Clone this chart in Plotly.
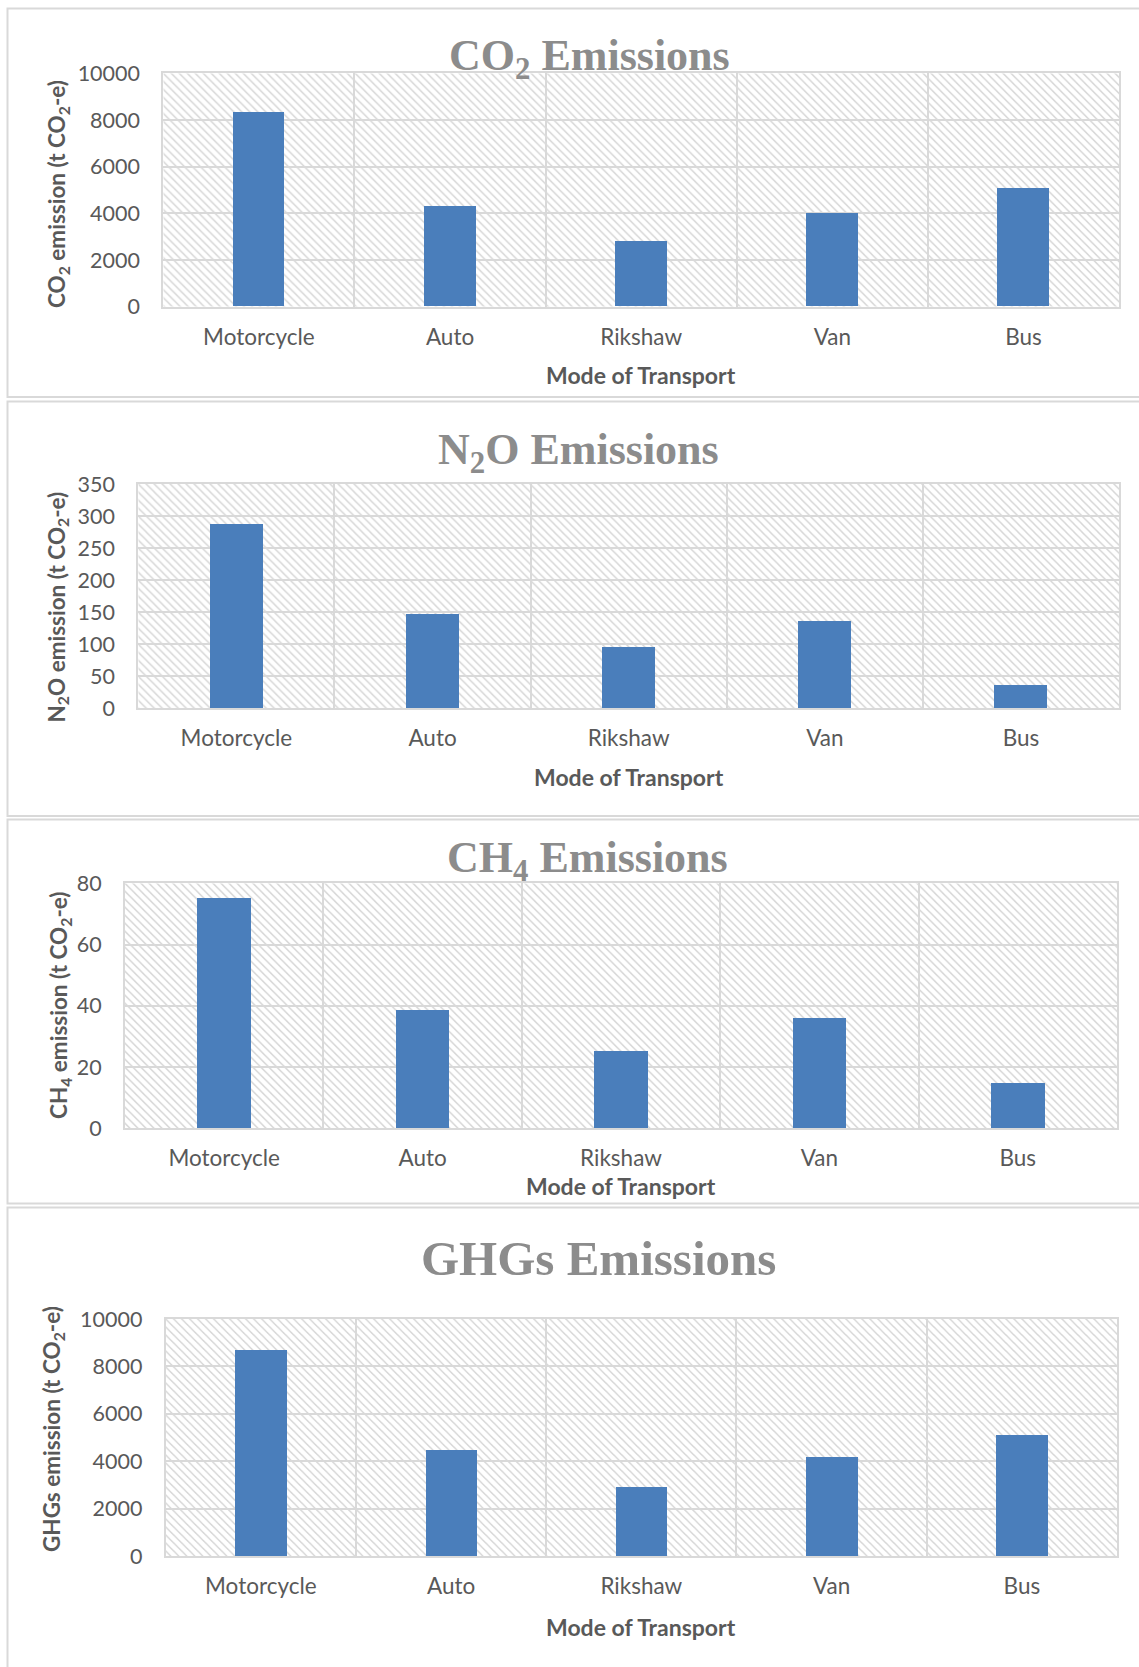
import base64
import plotly.graph_objects as go

# ---- data -------------------------------------------------------------
modes = ["Motorcycle", "Auto", "Rikshaw", "Van", "Bus"]
co2_emission = [8330, 4310, 2800, 4000, 5085]
n2o_emission = [287, 147.5, 96, 137, 36]
ch4_emission = [75, 38.6, 25.1, 36, 14.6]
ghg_emission = [8695, 4480, 2895, 4170, 5120]

co2_ticks = [0, 2000, 4000, 6000, 8000, 10000]
n2o_ticks = [0, 50, 100, 150, 200, 250, 300, 350]
ch4_ticks = [0, 20, 40, 60, 80]
ghg_ticks = [0, 2000, 4000, 6000, 8000, 10000]

W, H = 1139, 1667
BAR = "#4A7EBB"
TXT = "#595959"
TITLE = "#8C8C8C"
GRID = "#D9D9D9"
SANS = "Lato"
SERIF = "Liberation Serif"

# each panel: title, y label, values, ticks, plot box (px: l, t, r, b),
# frame box, title centre, title size, y-label centre, x-title y
panels = [
    dict(title="CO<sub>2</sub> Emissions",
         ylabel="CO<sub>2</sub> emission (t CO<sub>2</sub>-e)",
         values=co2_emission, ticks=co2_ticks,
         box=(163.3, 73.3, 1119, 306.7), frame=(7.5, 8.5, 1160, 397),
         tpos=(589, 59), tsize=44, ypos=(58, 194), xt=375),
    dict(title="N<sub>2</sub>O Emissions",
         ylabel="N<sub>2</sub>O emission (t CO<sub>2</sub>-e)",
         values=n2o_emission, ticks=n2o_ticks,
         box=(138.3, 484, 1119, 708.3), frame=(7.5, 401.5, 1160, 816),
         tpos=(578, 452), tsize=44, ypos=(58, 607.5), xt=777),
    dict(title="CH<sub>4</sub> Emissions",
         ylabel="CH<sub>4</sub> emission (t CO<sub>2</sub>-e)",
         values=ch4_emission, ticks=ch4_ticks,
         box=(125, 883.3, 1117, 1128.3), frame=(7.5, 819.5, 1160, 1203.5),
         tpos=(587, 860), tsize=44, ypos=(60, 1005), xt=1186),
    dict(title="GHGs Emissions",
         ylabel="GHGs emission (t CO<sub>2</sub>-e)",
         values=ghg_emission, ticks=ghg_ticks,
         box=(165.7, 1319, 1117, 1556), frame=(7.5, 1207.5, 1160, 1700),
         tpos=(598, 1258), tsize=49, ypos=(53, 1429), xt=1627),
]


def px_x(v):
    return v / W


def px_y(v):
    return 1 - v / H


def hatch_svg(w, h):
    """Light grey downward-diagonal hatch used as the plot-area fill."""
    p = 8
    svg = (
        f"<svg xmlns='http://www.w3.org/2000/svg' width='{w:.0f}' height='{h:.0f}' "
        f"viewBox='0 0 {w:.0f} {h:.0f}' preserveAspectRatio='none'>"
        f"<defs><pattern id='hp' width='{p}' height='{p}' patternUnits='userSpaceOnUse'>"
        f"<rect width='{p}' height='{p}' fill='#ffffff'/>"
        f"<path d='M0,0 L{p},{p} M-2,{p-2} L2,{p+2} M{p-2},-2 L{p+2},2' "
        f"stroke='#d8d8d8' stroke-width='1.5'/></pattern></defs>"
        f"<rect width='{w:.0f}' height='{h:.0f}' fill='url(#hp)'/></svg>"
    )
    return "data:image/svg+xml;base64," + base64.b64encode(svg.encode()).decode()


fig = go.Figure()
layout = dict(
    width=W, height=H, autosize=False,
    margin=dict(l=0, r=0, t=0, b=0, pad=0),
    paper_bgcolor="white", plot_bgcolor="rgba(0,0,0,0)",
    showlegend=False, bargap=0,
)
shapes, images, annotations = [], [], []

for i, pnl in enumerate(panels, start=1):
    l, t, r, b = pnl["box"]
    xa = "x" if i == 1 else f"x{i}"
    ya = "y" if i == 1 else f"y{i}"
    fig.add_trace(go.Bar(
        x=modes, y=pnl["values"], xaxis=xa, yaxis=ya,
        marker=dict(color=BAR, line=dict(width=0)), width=0.27,
        hoverinfo="x+y",
    ))
    key = "" if i == 1 else str(i)
    layout[f"xaxis{key}"] = dict(
        domain=[px_x(l), px_x(r)], anchor=ya, automargin=False,
        type="category", range=[-0.5, len(modes) - 0.5],
        tickson="boundaries", showgrid=True, gridcolor=GRID, gridwidth=1.5,
        showline=True, linecolor=GRID, linewidth=2, mirror=True,
        ticks="", ticklabelstandoff=9,
        tickfont=dict(family=SANS, size=22.5, color=TXT),
        fixedrange=True,
    )
    layout[f"yaxis{key}"] = dict(
        domain=[px_y(b), px_y(t)], anchor=xa, automargin=False,
        range=[pnl["ticks"][0], pnl["ticks"][-1]],
        tickvals=pnl["ticks"], tickformat="d",
        showgrid=True, gridcolor=GRID, gridwidth=1.5, zeroline=False,
        showline=True, linecolor=GRID, linewidth=2, mirror=True,
        ticks="", ticklabelstandoff=17,
        tickfont=dict(family=SANS, size=21.5, color=TXT),
        fixedrange=True,
    )
    images.append(dict(
        source=hatch_svg(r - l, b - t), xref="paper", yref="paper",
        x=px_x(l), y=px_y(t), sizex=(r - l) / W, sizey=(b - t) / H,
        xanchor="left", yanchor="top", sizing="stretch", layer="below",
    ))
    fx0, fy0, fx1, fy1 = pnl["frame"]
    shapes.append(dict(
        type="rect", xref="paper", yref="paper",
        x0=px_x(fx0), x1=px_x(fx1), y0=px_y(fy0), y1=px_y(fy1),
        line=dict(color=GRID, width=2), fillcolor="rgba(0,0,0,0)", layer="below",
    ))
    annotations.append(dict(
        text=f"<b>{pnl['title']}</b>", xref="paper", yref="paper",
        x=px_x(pnl["tpos"][0]), y=px_y(pnl["tpos"][1]),
        xanchor="center", yanchor="middle", showarrow=False,
        font=dict(family=SERIF, size=pnl["tsize"], color=TITLE),
    ))
    annotations.append(dict(
        text=f"<b>{pnl['ylabel']}</b>", xref="paper", yref="paper",
        x=px_x(pnl["ypos"][0]), y=px_y(pnl["ypos"][1]), textangle=-90,
        xanchor="center", yanchor="middle", showarrow=False,
        font=dict(family=SANS, size=22.5, color=TXT),
    ))
    annotations.append(dict(
        text="<b>Mode of Transport</b>", xref="paper", yref="paper",
        x=px_x((l + r) / 2), y=px_y(pnl["xt"]),
        xanchor="center", yanchor="middle", showarrow=False,
        font=dict(family=SANS, size=23, color=TXT),
    ))

layout["shapes"] = shapes
layout["images"] = images
layout["annotations"] = annotations
fig.update_layout(**layout)
fig.write_html("out.html")
